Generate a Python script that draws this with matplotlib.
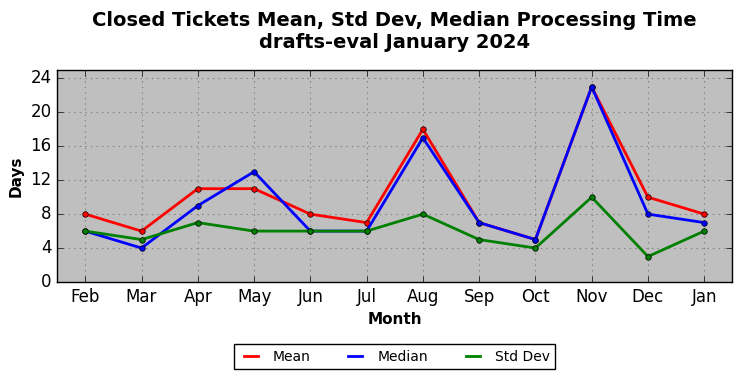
import matplotlib
matplotlib.use('Agg')
import matplotlib.pyplot as plt
from matplotlib.lines import Line2D

months = ['Feb', 'Mar', 'Apr', 'May', 'Jun', 'Jul', 'Aug', 'Sep', 'Oct', 'Nov', 'Dec', 'Jan']
mean = [8, 6, 11, 11, 8, 7, 18, 7, 5, 23, 10, 8]
median = [6, 4, 9, 13, 6, 6, 17, 7, 5, 23, 8, 7]
std_dev = [6, 5, 7, 6, 6, 6, 8, 5, 4, 10, 3, 6]

plt.style.use('classic')
fig = plt.figure(figsize=(7.42, 3.78), dpi=100, facecolor='white')
ax = fig.add_axes([0.077, 0.254, 0.910, 0.561])
ax.set_facecolor('#bfbfbf')

x = list(range(len(months)))
ax.plot(x, mean, color='red', lw=2, marker='o', ms=4, label='Mean')
ax.plot(x, median, color='blue', lw=2, marker='o', ms=4, label='Median')
ax.plot(x, std_dev, color='green', lw=2, marker='o', ms=4, label='Std Dev')

ax.set_xlim(-0.5, 11.5)
ax.set_ylim(0, 25)
ax.set_yticks(range(0, 25, 4))
ax.set_xticks(x)
ax.set_xticklabels(months)
ax.tick_params(labelsize=12)
ax.grid(True, color='gray', linestyle=':', linewidth=0.8)
ax.set_axisbelow(True)

ax.set_xlabel('Month', fontsize=11, fontweight='bold')
ax.set_ylabel('Days', fontsize=11, fontweight='bold')
ax.set_title('Closed Tickets Mean, Std Dev, Median Processing Time\ndrafts-eval January 2024',
             fontsize=14, fontweight='bold', pad=16)

handles = [Line2D([], [], color=c, lw=2) for c in ('red', 'blue', 'green')]
leg = ax.legend(handles, ['Mean', 'Median', 'Std Dev'], loc='upper center',
                bbox_to_anchor=(0.5, -0.26), ncol=3, fontsize=10, fancybox=False,
                handlelength=1.6, columnspacing=2.4, borderpad=0.4)
leg.get_frame().set_linewidth(1)

fig.savefig('out.png', dpi=100, facecolor='white')
